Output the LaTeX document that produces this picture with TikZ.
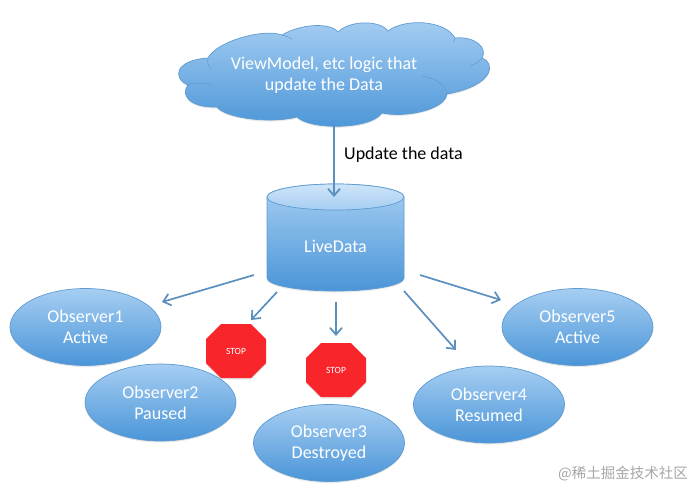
\documentclass[tikz,border=0pt]{standalone}
\usepackage{fontspec}
\setmainfont{Carlito}
\newfontfamily\cjk{Noto Sans CJK SC}
\usetikzlibrary{arrows.meta,shapes.geometric,shadows}
\definecolor{topblue}{HTML}{A6CEF2}
\definecolor{lowblue}{HTML}{4A95D8}
\definecolor{edgeblue}{HTML}{5F9BD0}
\definecolor{arrowblue}{HTML}{5A8FBE}
\definecolor{stopred}{HTML}{F8262B}
\tikzset{
	softshadow/.style={drop shadow={opacity=.18, shadow xshift=0pt, shadow yshift=-1.5pt}},
	observer/.style={ellipse, draw=edgeblue, line width=.7pt, top color=topblue, bottom color=lowblue, softshadow,
		minimum width=151, minimum height=77, inner sep=0pt, align=center, text=white,
		execute at begin node={\mbox{}\\[-17pt]},
		font=\fontsize{18}{21}\selectfont},
	flow/.style={draw=arrowblue, line width=1.7pt, -{Straight Barb[length=7pt,width=12pt]}},
	stoptext/.style={text=white, inner sep=0pt, font=\fontsize{9.5}{10}\selectfont},
	caption/.style={text=white, inner sep=0pt, align=center, font=\fontsize{18}{21}\selectfont}
}
\begin{document}
\begin{tikzpicture}[x=1pt, y=-1pt]
	\useasboundingbox (0,0) rectangle (694,488);
	%cloud
	\draw[draw=edgeblue, line width=.7pt, top color=topblue, bottom color=lowblue, softshadow]
	(208,58) .. controls (216,42) and (262,28) .. (282,35)
	.. controls (300,24) and (330,22) .. (338,32)
	.. controls (350,20) and (380,20) .. (388,31)
	.. controls (405,18) and (445,20) .. (455,38)
	.. controls (475,36) and (488,48) .. (482,58)
	.. controls (495,62) and (496,85) .. (447,94)
	.. controls (445,110) and (405,118) .. (382,113)
	.. controls (370,130) and (310,130) .. (297,117)
	.. controls (270,124) and (225,118) .. (217,107)
	.. controls (190,108) and (180,95) .. (188,85)
	.. controls (172,78) and (175,60) .. (208,58) -- cycle;
	%cloud inner lines
	\draw[edgeblue, line width=.5pt] (188,85) .. controls (194,82) and (205,83) .. (212,85);
	\draw[edgeblue, line width=.5pt] (208,58) .. controls (207,62) and (208,65) .. (211,69);
	\draw[edgeblue, line width=.5pt] (447,94) .. controls (447,86) and (435,78) .. (422,76);
	\draw[edgeblue, line width=.5pt] (482,58) .. controls (479,62) and (475,64) .. (470,66);
	\draw[edgeblue, line width=.5pt] (282,35) .. controls (286,36) and (289,37) .. (292,39);
	\draw[edgeblue, line width=.5pt] (455,38) .. controls (455,40) and (454,41) .. (453,42);
	\node[caption] (logic) at (324,75) {ViewModel, etc logic that\\update the Data};
	\coordinate (logic bottom) at (334,125);
	%cylinder
	\draw[draw=edgeblue, line width=.7pt, top color=topblue, bottom color=lowblue, softshadow]
	(267,197) -- (267,278) arc[start angle=180, end angle=0, x radius=68.5, y radius=13]
	-- (404,197) arc[start angle=0, end angle=-180, x radius=68.5, y radius=13] -- cycle;
	\draw[draw=edgeblue, line width=.7pt, top color=topblue!55!white, bottom color=topblue]
	(335.5,197) ellipse[x radius=68.5, y radius=13];
	\node[text=white, inner sep=0pt, font=\fontsize{18}{21}\selectfont] (livedata) at (335.5,246) {LiveData};
	\coordinate (data top) at (334,197);
	%observers
	\node[observer] (obs1) at (85.5,327) {Observer1\\Active};
	\node[observer] (obs2) at (160.5,402.5) {Observer2\\Paused};
	\node[observer] (obs3) at (329,443) {Observer3\\Destroyed};
	\node[observer] (obs4) at (489,404.5) {Observer4\\Resumed};
	\node[observer] (obs5) at (577.5,327) {Observer5\\Active};
	%stop signs
	\foreach \name/\cx/\cy in {stopa/236/351, stopb/336/370}{
		\fill[stopred, softshadow] (\cx-30,\cy-12) -- (\cx-15,\cy-27) -- (\cx+15,\cy-27) -- (\cx+30,\cy-12)
		-- (\cx+30,\cy+12) -- (\cx+15,\cy+27) -- (\cx-15,\cy+27) -- (\cx-30,\cy+12) -- cycle;
		\node[stoptext] (\name) at (\cx,\cy) {STOP};
	}
	%arrow ends
	\coordinate (out1) at (254,275);
	\coordinate (out2) at (277,292);
	\coordinate (out3) at (336,302);
	\coordinate (out4) at (404,291);
	\coordinate (out5) at (420,275);
	\coordinate (in1) at (162,302);
	\coordinate (in2) at (251,320);
	\coordinate (in3) at (336,336);
	\coordinate (in4) at (456,350);
	\coordinate (in5) at (501,300);
	%arrows
	\draw[flow] (logic bottom) -- (data top);
	\foreach \i in {1,...,5}
	\draw[flow] (out\i) -- (in\i);
	%labels
	\node[anchor=west, inner sep=0pt, font=\fontsize{18}{21}\selectfont] (update) at (344,155) {Update the data};
	\node[anchor=east, inner sep=0pt, text=black!35, font=\cjk\fontsize{14.5}{16}\selectfont] (mark) at (688,474) {@稀土掘金技术社区};
\end{tikzpicture}
\end{document}
